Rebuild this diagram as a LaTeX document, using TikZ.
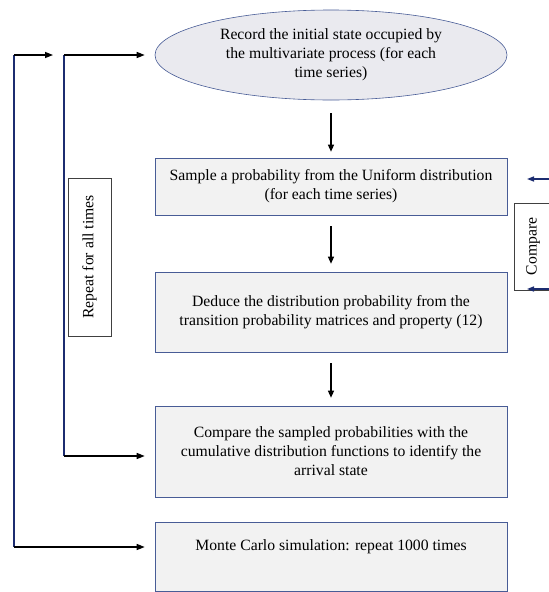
\documentclass[tikz,border=0pt]{standalone}
\usepackage{fontspec}
\setmainfont{Liberation Serif}
\usetikzlibrary{arrows.meta,shapes.geometric}
\definecolor{boxfill}{RGB}{242,242,242}
\definecolor{ovalfill}{RGB}{234,234,239}
\definecolor{boxline}{RGB}{72,92,150}
\definecolor{loopline}{RGB}{28,44,112}

\begin{document}
\begin{tikzpicture}[x=1pt, y=-1pt,
		txt/.style={font=\fontsize{15.7}{19}\selectfont, align=center},
		stepbox/.style={txt, draw=boxline, fill=boxfill, line width=0.6pt, minimum width=352pt},
		sidebox/.style={txt, draw=black!75, fill=white, line width=0.6pt, rotate=90},
		flowarrow/.style={line width=1.2pt, -{Triangle[length=7pt, width=6pt]}, shorten <=11pt, shorten >=8pt},
		looparrow/.style={line width=1.4pt, -{Triangle[length=8pt, width=6pt]}},
		backarrow/.style={line width=1.4pt, color=loopline, -{Triangle[length=7pt, width=5pt]}}]
			%%%%% START %%%%%
			
			\useasboundingbox (0, 0) rectangle (549, 592);
			
			\node[txt, ellipse, draw=boxline, fill=ovalfill, line width=0.6pt, inner sep=0pt, minimum width=352pt, minimum height=90pt] (ell) at (331, 55) {Record the initial state occupied by\\the multivariate process (for each\\time series)};
			
			\node[stepbox, minimum height=57pt] (b1) at (331, 186.5) {Sample a probability from the Uniform distribution\\(for each time series)};
			\node[stepbox, minimum height=80pt] (b2) at (331, 312) {Deduce the distribution probability from the\\transition probability matrices and property (12)};
			\node[stepbox, minimum height=91pt] (b3) at (331, 451.5) {Compare the sampled probabilities with the\\cumulative distribution functions to identify the\\arrival state};
			\node[stepbox, minimum height=69pt, text height=11pt, text depth=23pt] (b4) at (331, 556.5) {Monte Carlo simulation: repeat 1000 times};
			
			\draw[flowarrow, shorten <=13pt, shorten >=6pt] (ell) -- (b1);
			\draw[flowarrow] (b1) -- (b2);
			\draw[flowarrow] (b2) -- (b3);
			
			% repeat loops on the left
			\coordinate (outtop) at (14, 55);
			\coordinate (outend) at (53, 55);
			\coordinate (outbot) at (14, 547);
			\coordinate (intop) at (64, 55);
			\coordinate (inbot) at (64, 456);
			
			\draw[line width=1.2pt, color=loopline] (outtop) -- (outbot);
			\draw[line width=1.2pt, color=loopline] (intop) -- (inbot);
			\draw[looparrow] (outtop) -- (outend);
			\draw[looparrow, shorten >=10pt] (intop) -- (ell.west);
			\draw[looparrow, shorten >=10pt] (inbot) -- (inbot -| b3.west);
			\draw[looparrow, shorten >=10pt] (outbot) -- (outbot -| b4.west);
			
			\node[sidebox, minimum width=158pt, minimum height=43pt] (rep) at (89.5, 257) {Repeat for all times};
			
			% compare on the right
			\node[sidebox, minimum width=87pt, minimum height=38pt] (cmp) at (533, 246.5) {Compare};
			\coordinate (cmpa) at (552, 179);
			\coordinate (cmpb) at (552, 289);
			\draw[backarrow] (cmpa) -- (527, 179);
			\draw[backarrow] (cmpb) -- (527, 289);
			
			%%%%% END %%%%%
\end{tikzpicture}
\end{document}
